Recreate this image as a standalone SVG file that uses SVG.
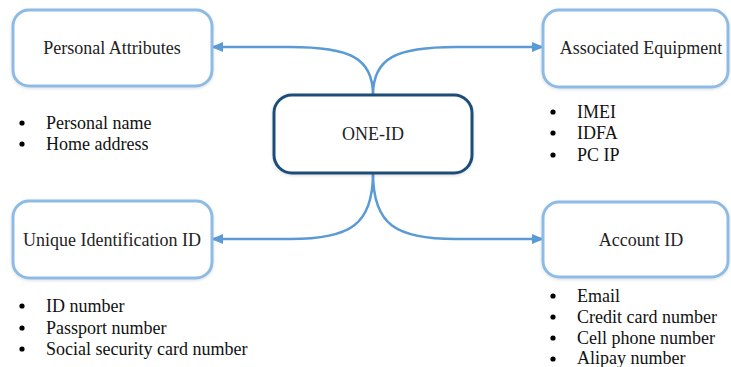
<svg xmlns="http://www.w3.org/2000/svg" width="731" height="367" viewBox="0 0 731 367">
<style>
.box{fill:#fff;stroke:#8dbbe6;stroke-width:3}
.core{fill:#fff;stroke:#1f4e79;stroke-width:3}
.lbl{font-family:"Liberation Serif",serif;font-size:18px;fill:#222;text-anchor:middle}
.item{font-family:"Liberation Serif",serif;font-size:18px;fill:#111}
.dot{fill:#000}
.conn{fill:none;stroke:#5b9bd5;stroke-width:2.5}
</style>
<defs>
<marker id="arr" markerUnits="userSpaceOnUse" markerWidth="12" markerHeight="12" viewBox="0 0 12 12" refX="11" refY="6" orient="auto">
<path d="M0,1 L12,6 L0,11 Z" fill="#5b9bd5"/>
</marker>
<filter id="sh" x="-10%" y="-10%" width="120%" height="130%">
<feDropShadow dx="0" dy="1" stdDeviation="1.5" flood-color="#000" flood-opacity="0.15"/>
</filter>
</defs>
<g id="connectors">
<path class="conn" d="M373,95 C373,58 350,47 290,47 L212,47" marker-end="url(#arr)"/>
<path class="conn" d="M373,95 C373,58 396,47 456,47 L543,47" marker-end="url(#arr)"/>
<path class="conn" d="M373,173 C373,225 350,239 290,239 L212,239" marker-end="url(#arr)"/>
<path class="conn" d="M373,173 C373,225 396,239 456,239 L543,239" marker-end="url(#arr)"/>
</g>
<g id="personal-attributes">
<rect class="box" x="13" y="10" width="199" height="76" rx="16" filter="url(#sh)"/>
<text class="lbl" x="112" y="54">Personal Attributes</text>
</g>
<g id="associated-equipment">
<rect class="box" x="543" y="10" width="185" height="77" rx="16" filter="url(#sh)"/>
<text class="lbl" x="641" y="54">Associated Equipment</text>
</g>
<g id="one-id">
<rect class="core" x="274" y="95" width="198" height="78" rx="18" filter="url(#sh)"/>
<text class="lbl" x="373" y="140">ONE-ID</text>
</g>
<g id="unique-identification-id">
<rect class="box" x="13" y="201" width="199" height="77" rx="16" filter="url(#sh)"/>
<text class="lbl" x="112" y="246">Unique Identification ID</text>
</g>
<g id="account-id">
<rect class="box" x="543" y="202" width="185" height="75" rx="16" filter="url(#sh)"/>
<text class="lbl" x="641" y="246">Account ID</text>
</g>
<g id="personal-list">
<circle class="dot" cx="22" cy="123" r="2.6"/><text class="item" x="46" y="129">Personal name</text>
<circle class="dot" cx="22" cy="144" r="2.6"/><text class="item" x="46" y="150">Home address</text>
</g>
<g id="equipment-list">
<circle class="dot" cx="553" cy="112" r="2.6"/><text class="item" x="577" y="118">IMEI</text>
<circle class="dot" cx="553" cy="133" r="2.6"/><text class="item" x="577" y="139">IDFA</text>
<circle class="dot" cx="553" cy="155" r="2.6"/><text class="item" x="577" y="161">PC IP</text>
</g>
<g id="unique-list">
<circle class="dot" cx="22" cy="306" r="2.6"/><text class="item" x="46" y="312">ID number</text>
<circle class="dot" cx="22" cy="328" r="2.6"/><text class="item" x="46" y="334">Passport number</text>
<circle class="dot" cx="22" cy="349" r="2.6"/><text class="item" x="46" y="355">Social security card number</text>
</g>
<g id="account-list">
<circle class="dot" cx="553" cy="296" r="2.6"/><text class="item" x="577" y="302">Email</text>
<circle class="dot" cx="553" cy="317" r="2.6"/><text class="item" x="577" y="323">Credit card number</text>
<circle class="dot" cx="553" cy="338" r="2.6"/><text class="item" x="577" y="344">Cell phone number</text>
<circle class="dot" cx="553" cy="359" r="2.6"/><text class="item" x="577" y="364">Alipay number</text>
</g>
</svg>
